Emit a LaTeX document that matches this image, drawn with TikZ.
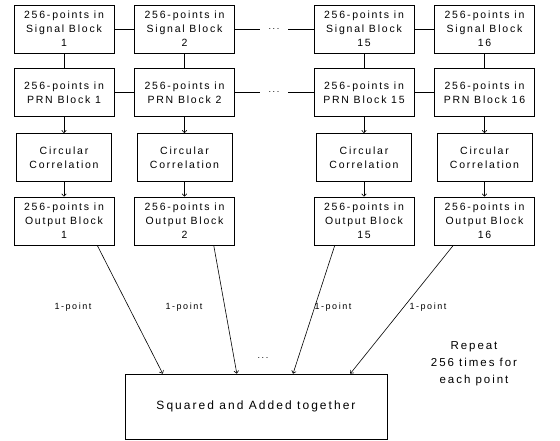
\documentclass[tikz,border=0pt]{standalone}
\usepackage{fontspec}
\setmainfont{Liberation Sans}[LetterSpace=17]
\usetikzlibrary{calc,arrows.meta}

\tikzset{
	block/.style={draw, line width=0.8pt, minimum width=100pt, minimum height=48pt, align=center, inner sep=1pt, font=\fontsize{10.5}{14}\selectfont},
	corrblock/.style={block, minimum width=95pt},
	link/.style={line width=0.7pt},
	feed/.style={line width=0.6pt, -{To[length=3pt,width=5pt]}},
	lbl/.style={font=\fontsize{9}{12}\selectfont},
	gap/.style={lbl, inner xsep=9pt},
}

\begin{document}
\begin{tikzpicture}[x=1pt,y=-1pt]
	\useasboundingbox (0,0) rectangle (560,441);
	% one column of blocks per signal block
	\foreach \i/\x/\n in {1/64/1,2/184.5/2,3/364/15,4/484.5/16}{
		\node[block] (sig\i) at (\x,29) {256-points in\\Signal Block\\\n};
		\node[block] (prn\i) at (\x,92.5) {256-points in\\PRN Block \n};
		\node[corrblock] (corr\i) at (\x,157.5) {Circular\\Correlation};
		\node[block] (out\i) at (\x,221) {256-points in\\Output Block\\\n};
		\draw[link] (sig\i) -- (prn\i);
		\draw[feed] (prn\i) -- (corr\i);
		\draw[feed] (corr\i) -- (out\i);
	}
	\node[gap] (sdots) at (274,29) {...};
	\node[gap] (pdots) at (274,92.5) {...};
	\draw[link] (sig1) -- (sig2) (sig2) -- (sdots) (sdots) -- (sig3) (sig3) -- (sig4);
	\draw[link] (prn1) -- (prn2) (prn2) -- (pdots) (pdots) -- (prn3) (prn3) -- (prn4);
	% summing block
	\node[block, minimum width=262pt, minimum height=65pt, font=\fontsize{12}{17}\selectfont] (sum) at (256,406.5) {Squared and Added together};
	\draw[feed] ($(out1.south west)!0.83!(out1.south east)$) -- ($(sum.north west)!0.145!(sum.north east)$);
	\draw[feed] ($(out2.south west)!0.79!(out2.south east)$) -- ($(sum.north west)!0.427!(sum.north east)$);
	\draw[feed] ($(out3.south west)!0.21!(out3.south east)$) -- ($(sum.north west)!0.641!(sum.north east)$);
	\draw[feed] ($(out4.south west)!0.19!(out4.south east)$) -- ($(sum.north west)!0.859!(sum.north east)$);
	\node[lbl] (pt1) at (73,307) {1-point};
	\node[lbl] (pt2) at (184,307) {1-point};
	\node[lbl] (pt3) at (333,307) {1-point};
	\node[lbl] (pt4) at (428,307) {1-point};
	\node[lbl] (odots) at (263,358) {...};
	\node[align=center, font=\fontsize{11.5}{17}\selectfont] (rep) at (474,364) {Repeat\\256 times for\\each point};
\end{tikzpicture}
\end{document}
